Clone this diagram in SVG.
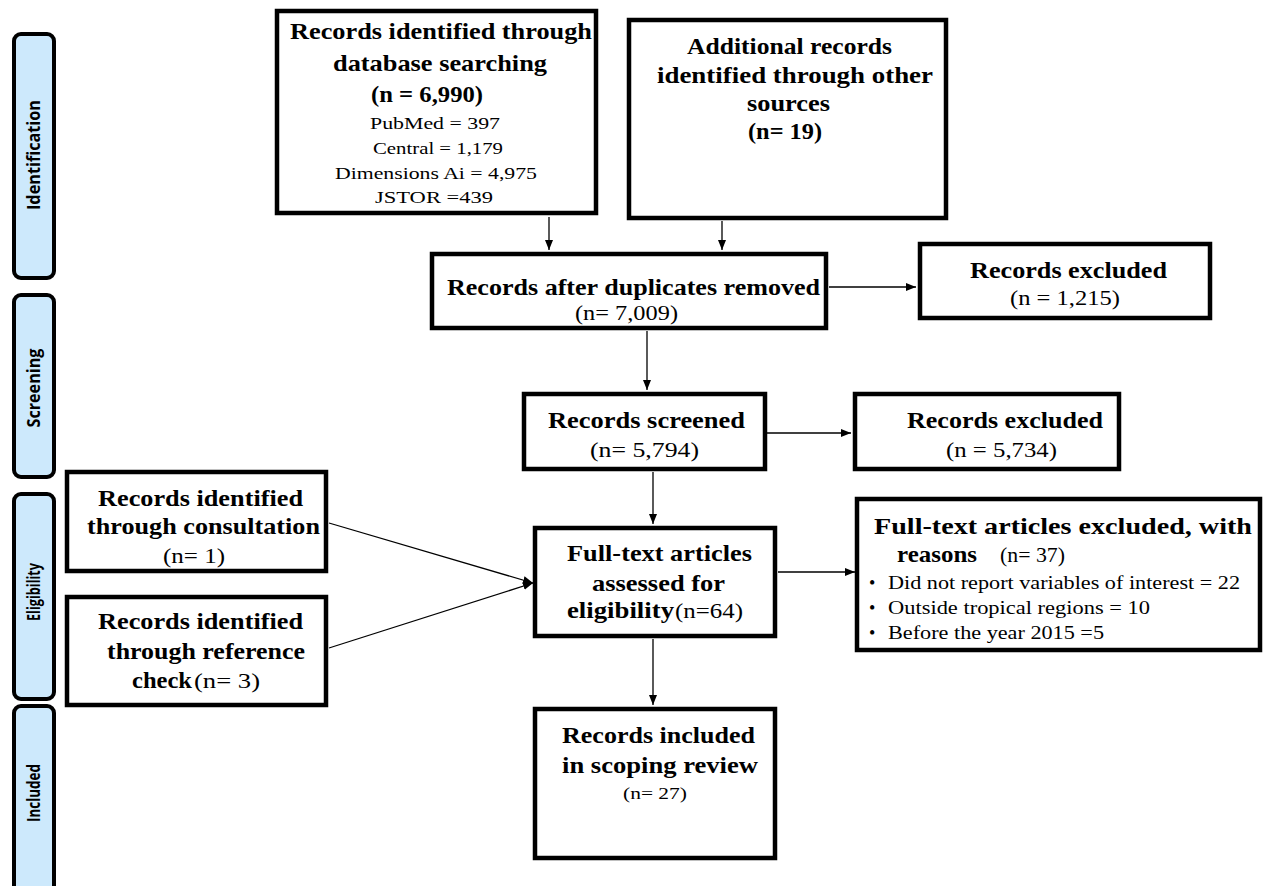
<svg xmlns="http://www.w3.org/2000/svg" width="1265" height="886" viewBox="0 0 1265 886">
<style>
.bar{fill:#cde9fc;stroke:#000;stroke-width:4}
.box{fill:#fff;stroke:#000;stroke-width:4.5}
.lbl{font-family:"Open Sans","DejaVu Sans",sans-serif;font-weight:bold;font-size:17px;fill:#000}
.b{font-family:"Liberation Serif","Times New Roman",serif;font-weight:bold;font-size:23px;fill:#000}
.r{font-family:"Liberation Serif","Times New Roman",serif;font-size:22px;fill:#000}
.s{font-family:"Liberation Serif","Times New Roman",serif;font-size:17px;fill:#000}
.m{font-family:"Liberation Serif","Times New Roman",serif;font-size:18px;fill:#000}
.c{fill:none;stroke:#000;stroke-width:1.3}
</style>
<defs>
<marker id="ah" markerUnits="userSpaceOnUse" markerWidth="10" markerHeight="10" viewBox="0 0 10 10" refX="10" refY="5" orient="auto">
<path d="M0,1 L10,5 L0,9 Z" fill="#000"/>
</marker>
</defs>
<rect width="1265" height="886" fill="#fff"/>

<g id="stage-identification"><rect class="bar" x="14" y="34" width="40" height="244" rx="7"/><text class="lbl" transform="translate(40,155) rotate(-90)" text-anchor="middle" textLength="110" lengthAdjust="spacingAndGlyphs">Identification</text></g>
<g id="stage-screening"><rect class="bar" x="14" y="295" width="40" height="182" rx="7"/><text class="lbl" transform="translate(40,388) rotate(-90)" text-anchor="middle" textLength="79" lengthAdjust="spacingAndGlyphs">Screening</text></g>
<g id="stage-eligibility"><rect class="bar" x="14" y="494" width="40" height="205" rx="7"/><text class="lbl" transform="translate(40,592) rotate(-90)" text-anchor="middle" textLength="58" lengthAdjust="spacingAndGlyphs">Eligibility</text></g>
<g id="stage-included"><rect class="bar" x="14" y="706" width="40" height="190" rx="7"/><text class="lbl" transform="translate(40,793) rotate(-90)" text-anchor="middle" textLength="58" lengthAdjust="spacingAndGlyphs">Included</text></g>

<g id="connectors">
<line class="c" x1="549" y1="217" x2="549" y2="250" marker-end="url(#ah)"/>
<line class="c" x1="722" y1="221" x2="722" y2="250" marker-end="url(#ah)"/>
<line class="c" x1="829" y1="287" x2="916" y2="287" marker-end="url(#ah)"/>
<line class="c" x1="647" y1="331" x2="647" y2="390" marker-end="url(#ah)"/>
<line class="c" x1="767" y1="433" x2="851" y2="433" marker-end="url(#ah)"/>
<line class="c" x1="653" y1="472" x2="653" y2="524" marker-end="url(#ah)"/>
<line class="c" x1="329" y1="523" x2="533" y2="583" marker-end="url(#ah)"/>
<line class="c" x1="329" y1="648" x2="533" y2="583" marker-end="url(#ah)"/>
<line class="c" x1="778" y1="572" x2="855" y2="572" marker-end="url(#ah)"/>
<line class="c" x1="653" y1="639" x2="653" y2="705" marker-end="url(#ah)"/>
</g>

<g id="database-records">
<rect class="box" x="277" y="11" width="319" height="202"/>
<text class="b" x="290" y="39" textLength="302" lengthAdjust="spacingAndGlyphs">Records identified through</text>
<text class="b" x="333" y="71" textLength="214" lengthAdjust="spacingAndGlyphs">database searching</text>
<text class="b" x="371" y="102" textLength="112" lengthAdjust="spacingAndGlyphs">(n = 6,990)</text>
<text class="s" x="370" y="129" textLength="130" lengthAdjust="spacingAndGlyphs">PubMed = 397</text>
<text class="s" x="373" y="154" textLength="130" lengthAdjust="spacingAndGlyphs">Central = 1,179</text>
<text class="s" x="335" y="179" textLength="202" lengthAdjust="spacingAndGlyphs">Dimensions Ai = 4,975</text>
<text class="s" x="375" y="203" textLength="118" lengthAdjust="spacingAndGlyphs">JSTOR =439</text>
</g>

<g id="other-sources">
<rect class="box" x="629" y="20" width="317" height="198"/>
<text class="b" x="687" y="54" textLength="205" lengthAdjust="spacingAndGlyphs">Additional records</text>
<text class="b" x="657" y="83" textLength="276" lengthAdjust="spacingAndGlyphs">identified through other</text>
<text class="b" x="747" y="111" textLength="83" lengthAdjust="spacingAndGlyphs">sources</text>
<text class="b" x="748" y="139" textLength="74" lengthAdjust="spacingAndGlyphs">(n= 19)</text>
</g>

<g id="duplicates-removed">
<rect class="box" x="432" y="254" width="394" height="74"/>
<text class="b" x="447" y="295" textLength="373" lengthAdjust="spacingAndGlyphs">Records after duplicates removed</text>
<text class="r" x="575" y="320" textLength="103" lengthAdjust="spacingAndGlyphs">(n= 7,009)</text>
</g>

<g id="excluded-1">
<rect class="box" x="920" y="244" width="290" height="74"/>
<text class="b" x="970" y="278" textLength="197" lengthAdjust="spacingAndGlyphs">Records excluded</text>
<text class="r" x="1010" y="305" textLength="110" lengthAdjust="spacingAndGlyphs">(n = 1,215)</text>
</g>

<g id="screened">
<rect class="box" x="524" y="394" width="241" height="75"/>
<text class="b" x="548" y="428" textLength="197" lengthAdjust="spacingAndGlyphs">Records screened</text>
<text class="r" x="590" y="457" textLength="109" lengthAdjust="spacingAndGlyphs">(n= 5,794)</text>
</g>

<g id="excluded-2">
<rect class="box" x="855" y="394" width="264" height="75"/>
<text class="b" x="907" y="428" textLength="196" lengthAdjust="spacingAndGlyphs">Records excluded</text>
<text class="r" x="946" y="457" textLength="111" lengthAdjust="spacingAndGlyphs">(n = 5,734)</text>
</g>

<g id="consultation">
<rect class="box" x="67" y="472" width="259" height="99"/>
<text class="b" x="98" y="506" textLength="205" lengthAdjust="spacingAndGlyphs">Records identified</text>
<text class="b" x="87" y="534" textLength="233" lengthAdjust="spacingAndGlyphs">through consultation</text>
<text class="r" x="163" y="563" textLength="62" lengthAdjust="spacingAndGlyphs">(n= 1)</text>
</g>

<g id="reference-check">
<rect class="box" x="67" y="597" width="259" height="108"/>
<text class="b" x="98" y="629" textLength="205" lengthAdjust="spacingAndGlyphs">Records identified</text>
<text class="b" x="107" y="659" textLength="198" lengthAdjust="spacingAndGlyphs">through reference</text>
<text class="b" x="132" y="688" textLength="60" lengthAdjust="spacingAndGlyphs">check</text>
<text class="r" x="194" y="688" textLength="66" lengthAdjust="spacingAndGlyphs">(n= 3)</text>
</g>

<g id="full-text-assessed">
<rect class="box" x="535" y="528" width="240" height="108"/>
<text class="b" x="567" y="561" textLength="185" lengthAdjust="spacingAndGlyphs">Full-text articles</text>
<text class="b" x="592" y="591" textLength="133" lengthAdjust="spacingAndGlyphs">assessed for</text>
<text class="b" x="567" y="618" textLength="107" lengthAdjust="spacingAndGlyphs">eligibility</text>
<text class="r" x="675" y="618" textLength="68" lengthAdjust="spacingAndGlyphs">(n=64)</text>
</g>

<g id="full-text-excluded">
<rect class="box" x="857" y="499" width="403" height="151"/>
<text class="b" x="874" y="534" textLength="378" lengthAdjust="spacingAndGlyphs">Full-text articles excluded, with</text>
<text class="b" x="897" y="562" textLength="80" lengthAdjust="spacingAndGlyphs">reasons</text>
<text class="r" x="1000" y="562" textLength="65" lengthAdjust="spacingAndGlyphs">(n= 37)</text>
<text class="m" x="869" y="589">•</text>
<text class="m" x="888" y="589" textLength="352" lengthAdjust="spacingAndGlyphs">Did not report variables of interest = 22</text>
<text class="m" x="869" y="614">•</text>
<text class="m" x="888" y="614" textLength="262" lengthAdjust="spacingAndGlyphs">Outside tropical regions = 10</text>
<text class="m" x="869" y="639">•</text>
<text class="m" x="888" y="639" textLength="216" lengthAdjust="spacingAndGlyphs">Before the year 2015 =5</text>
</g>

<g id="included-review">
<rect class="box" x="535" y="709" width="240" height="149"/>
<text class="b" x="562" y="743" textLength="193" lengthAdjust="spacingAndGlyphs">Records included</text>
<text class="b" x="562" y="773" textLength="196" lengthAdjust="spacingAndGlyphs">in scoping review</text>
<text class="s" x="623" y="799" textLength="64" lengthAdjust="spacingAndGlyphs">(n= 27)</text>
</g>
</svg>
